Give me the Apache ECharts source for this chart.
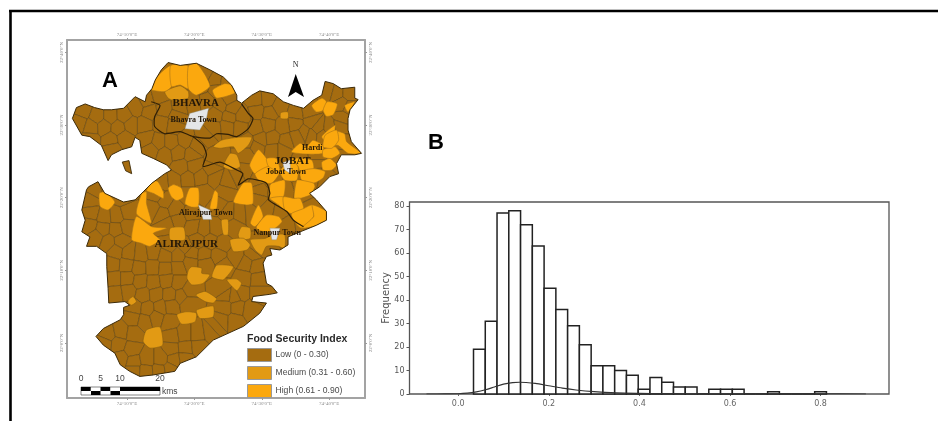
<!DOCTYPE html>
<html>
<head>
<meta charset="utf-8">
<script src="https://cdn.jsdelivr.net/npm/echarts@6/dist/echarts.min.js"></script>
<style>html,body{margin:0;padding:0;background:#fff}#c{width:938px;height:421px;filter:blur(0.55px)}</style>
</head>
<body>
<div id="c"></div>
<script>
// ---------- B: histogram (food security index) ----------
const binStart = 0.0338, binWidth = 0.02597;
const binCounts = [19,31,77,78,72,63,45,36,29,21,12,12,10,8,2,7,5,3,3,0,2,2,2,0,0,1,0,0,0,1];
const curveX = [-0.07,-0.03,0,0.02,0.04,0.06,0.08,0.1,0.12,0.135,0.15,0.17,0.2,0.23,0.26,0.3,0.35,0.4,0.45,0.5,0.6,0.7,0.8,0.9];
const curveY = [0,0.02,0.1,0.35,0.9,1.8,3,4.2,4.85,5,4.9,4.5,3.5,2.5,1.7,1,0.5,0.28,0.15,0.1,0.06,0.03,0.02,0];
const histXTicks = [0,0.2,0.4,0.6,0.8];
const histYTicks = [0,10,20,30,40,50,60,70,80];

// ---------- A: map, in arcminutes east of 74°E and north of 22°N ----------
const lonTicks = [10,20,30,40];
const latTicks = [0,10,20,30,40];
const districtOutline = [[1.9,30.9],[2.5,32.4],[3.8,32.9],[5.2,32.4],[6.5,32.1],[7.7,32.1],[9.5,32.3],[11.2,33.9],[12.7,33.2],[12.9,34.1],[13.7,35],[14.2,36.2],[15.1,37.6],[16.1,38.6],[17.9,38.2],[20.3,38.5],[22.3,37.6],[24.3,36.6],[25.5,35.5],[26.3,34.1],[26.3,33.4],[27,33],[28.5,34.1],[29.7,34.7],[31.7,34.3],[33.2,33.2],[34.7,32.7],[36.2,32.3],[37.6,33.4],[38.9,34.1],[39.4,36],[40.6,35.7],[41.8,35],[43.8,35.2],[43.8,33.7],[44.3,33.5],[43.1,32.1],[42.8,30.9],[42.8,29.3],[43.3,27.7],[44.8,26.1],[43.8,25.9],[41.8,25.9],[41.1,24.7],[41.4,23.3],[40.1,22.9],[38.6,21.5],[37.1,20.6],[38.1,19.7],[39.6,18.1],[39.6,16.9],[38.1,16.2],[35.7,15.3],[33.9,14.6],[33.9,13.5],[32.7,12.8],[31.2,13],[31.5,12.1],[30.7,11.9],[30.2,11],[30.7,8.2],[31.5,7.8],[32.3,6.9],[31.2,6.7],[28.7,6.4],[28.5,5.7],[30.7,5.5],[29.7,4.1],[27.3,2.3],[22.8,0.4],[20.3,-1.9],[17.9,-2.8],[17.1,-3.9],[13.9,-4.4],[11.9,-4.6],[10.4,-3.9],[9,-3],[8.2,-1.4],[6.5,-0.3],[5.4,0.9],[6.5,2],[9,3.2],[9.5,3.9],[9.5,4.9],[10.4,5.2],[9.7,5.7],[7.3,5.5],[7.2,7.5],[7,10.5],[7,12.3],[5.5,13.3],[4,13.3],[4.5,14.6],[3.3,15.3],[3.8,16.9],[3.3,18.3],[4,21.1],[4.3,21.5],[5.7,22.2],[6.7,20.6],[9.5,19.4],[11.2,19.7],[12.4,20.8],[13.7,22],[15.6,23.3],[16.6,23.8],[15.9,24.5],[13.9,25.4],[12.2,26.1],[11.9,27.9],[11.2,28.3],[10.7,27],[9.2,26.6],[7.7,25.9],[7.2,25.1],[6.2,27.2],[4.5,28.4],[3.3,28.6]];
const islandOutline = [[9.3,24.9],[10.3,25.1],[10.7,23.3],[9.8,23.7]];
const lowVillages = [
[21.4,37.3],[23.3,36.1],[24.6,35.9],[21,35.6],[23.4,34.9],[25,33.6],
[39.8,34.8],[41.2,34.4],[42.9,34.3],[12.9,33.3],[14.9,33.9],[17.8,32.5],[19.9,32.9],[21.8,33.1],[23.9,32.8],[25.6,32.3],[29.1,33.4],[30.9,33.5],[32.6,32.5],[35.1,31.6],[37,31.9],
[3.5,32],[5.6,31.2],[7.5,31.2],[9.6,31.3],[11.4,32.4],[13.3,31.9],[15.5,32.2],[17.4,31.2],[23.1,31.4],[25.2,31.1],[27.1,31.2],[29.3,31.9],[31.2,31.6],[37.4,30.4],[42.1,31],[41.9,32.9],[42.9,32.4],[34.9,30.2],[33.1,29.9],
[2.9,30.3],[4.7,29.7],[6.6,29.8],[8.7,29.6],[10.6,30],[12.5,30],[15.1,30.2],[17,29.9],[22.9,29.6],[24.9,29.8],[26.8,29.7],[29.2,29.6],[30.9,30.1],[36.4,28.9],[38.3,29.6],[40.1,29.4],[41.7,29.7],
[4.6,28],[7.6,27.9],[9.6,28.2],[12.9,28.1],[14.6,27.6],[16.6,27.6],[18.6,27.9],[20.4,27.1],[21.7,28.4],[27.8,27.7],[29.8,28],[31.6,28.1],[33.6,27.7],[35.3,28.3],[37.3,28.6],[39,28.5],[41.5,28.1],
[7.8,26.8],[13.6,26.6],[15.6,25.9],[17.6,26.2],[19.6,25.9],[23.1,25.5],[27.8,25.9],[29.3,27],[31.7,26.6],[33.1,26.6],[37.9,24.9],[41.3,25.2],[36,25.3],[37.9,25.6],
[18,24.2],[20,24.4],[22.5,23.9],[27.6,23.5],[36.5,23.9],[35.3,23.4],[38,23.1],[39.2,22.8],
[15.2,22.2],[17,22.4],[19,22.6],[21,22.8],[23,22.7],[24.9,22.1],[29.4,22.6],[26.6,23],[31.3,22.3],[35.8,21.5],
[5.3,21],[7,21.6],[14.4,20.4],[15.6,19.5],[19,20.3],[21.4,20.7],[24.6,20.9],[29.9,21],[29.6,19.7],[32,20.8],[33.7,20.8],[36,20.6],
[4.6,19.6],[4.8,17.9],[6.6,17.4],[8.5,17.5],[10.1,18],[9.3,20.1],[13.9,18.5],[15.2,17.8],[17.2,18.4],[17.6,16.9],[19.6,17.8],[23.6,18.9],[24.9,17.9],[26.8,17.8],[28.4,17.9],[30.8,18.5],[32.8,18.1],[37,18.4],
[4.5,16.2],[6.4,15.7],[8.4,15.6],[10,16],[15.9,16.3],[19.8,16],[21.4,15.7],[23.2,15.8],[25.9,15.9],[33.9,16.3],[36,16.5],[36.9,17.4],
[5.4,14.6],[7.2,13.9],[9.1,14],[16.3,13.4],[18.7,13.2],[20.5,14.1],[22.4,14],[24.2,13.7],[26.1,11.9],[28.7,12.2],[29.3,13],
[8.4,12.6],[10.2,12.4],[12.1,12.2],[13.9,12.5],[15.7,12],[17.6,12],[19.6,12.3],[21.5,12.1],[23.5,12],[24.4,10.6],[27.8,10.9],[29.1,10.6],
[7.9,10.8],[9.9,10.7],[11.8,10.3],[13.8,10.4],[15.7,10.2],[17.6,10.4],[19.4,11.1],[21.7,11],
[8.1,8.9],[10,8.9],[12,8.5],[13.9,8.3],[15.9,8.6],[17.6,8.3],[27.4,8.9],[29.4,8.7],[27,6.9],
[8.3,6.8],[10.2,7.1],[12.4,6.6],[14.3,6.7],[16.3,6.6],[18.1,6.5],[19.2,7.2],[24.6,6.6],[26,6.4],[29.4,6.9],[24.1,7.4],
[11.2,4.9],[13,4.7],[15,4.9],[16.5,5.1],[24.5,4.9],[26.4,4.9],[28.3,4.6],[19.1,5.5],
[10.9,3.4],[12.6,3],[14.4,3.5],[16.3,2.9],[24,3.1],[26,3],[23.2,2.3],
[7.2,1.2],[9.1,1.6],[11,1.3],[16.7,0.9],[18.5,1.2],[20.5,1.2],[22.4,1.5],
[6.7,-0.1],[8.7,-0.2],[10.7,-0.9],[16.6,-0.8],[18.7,-0.7],[20.6,-0.5],
[9.1,-2.1],[11,-2.6],[13,-2.2],[15,-2.2],[17,-2.3],[18.6,-2.1],
[11,-3.8],[12.8,-3.9],[14.8,-3.8],[16.4,-3.6]
];
const mediumPatches = [
[[15.6,34.6],[17.9,35.4],[19.1,34.6],[19.1,33.7],[16.9,33.4],[16.1,33.7]],
[[32.8,31.7],[33.9,31.8],[33.9,30.9],[32.8,30.9]],
[[22.8,27],[24,27.9],[26.3,28.3],[28.5,28.3],[28,27.2],[26.5,26.1],[25.8,27],[23.8,26.8]],
[[24.3,24.3],[25.3,26.1],[26.3,25.9],[26.8,24.3],[25.5,23.8]],
[[16.4,15.8],[18.4,15.9],[18.6,14.2],[16.4,14.2]],
[[24,16.9],[25,17],[25,14.9],[24.3,14.9]],
[[26.5,14.9],[27,16],[28.3,15.8],[28.3,14.4],[26.8,14.2]],
[[25.3,14.2],[27.3,14.4],[28.3,13.5],[27.8,12.8],[25.8,12.6]],
[[28.3,14.2],[30.5,14.4],[31.7,14.9],[33.4,14.9],[33.4,13],[32.5,13.3],[30.7,13.3],[30,12.1],[29,12.8]],
[[19.1,10],[19.6,10.5],[21.1,10.3],[21.1,9.6],[22.3,9.4],[21.3,8.2],[19.6,8],[18.9,8.9]],
[[22.6,9.1],[23.3,10.7],[25.8,10.5],[24.3,8.7]],
[[24.8,8.7],[26.3,8.8],[27,8.2],[26.3,7.2]],
[[10.2,5.9],[10.9,6.4],[11.4,5.7],[10.7,5.2],[10.2,5.5]],
[[20.2,6.6],[21.6,7.1],[23.3,6.1],[22.8,5.5],[21.6,5.7]],
[[17.4,3.9],[18.8,4.3],[20.3,4.1],[20.1,2.9],[18.1,2.6]],
[[20.3,4.5],[22.8,5.1],[22.8,3.6],[20.8,3.4]],
[[12.4,0.2],[12.9,1.8],[14.9,2.2],[15.3,-0.3],[13.4,-0.7]]
];
const highPatches = [
[[13.6,34.9],[14.4,36.6],[16.5,38.2],[16.6,35.3],[15.6,34.6]],
[[16.5,38.2],[19.1,38.1],[19.1,35],[17.9,35.5],[16.6,35.3]],
[[19.1,38.1],[20.3,38.5],[21.6,36.9],[22.3,35.3],[20.3,34.1],[19.1,35]],
[[22.7,34.8],[24.5,35.7],[25.5,35.5],[26,34.4],[23.3,33.7]],
[[37.4,32.7],[38.9,33.7],[39.6,33.2],[39.1,32],[38.1,31.8]],
[[39.1,32],[39.7,33.2],[41.2,32.9],[40.6,31.4],[39.6,31.2]],
[[42.3,32.7],[43.8,33.2],[42.8,31.8]],
[[34.4,26.3],[35.7,27.5],[36.6,27],[37.6,27.9],[39.1,27.2],[39.1,26.1],[36.6,26]],
[[38.9,28.4],[40.9,30],[40.9,29.3],[42.3,28.8],[42.6,27.7],[44.8,26.1],[42.8,26.1],[41.3,27.2],[40.1,27.2]],
[[38.9,24.9],[40.1,25.4],[41.1,24.5],[40.4,23.8],[39.1,23.8]],
[[39.1,26.6],[40.9,27],[41.6,26.1],[40.4,25.4],[39.1,25.6]],
[[39.4,28.6],[41.1,29.3],[41.4,27.9],[40.4,26.8],[39.1,27]],
[[28.2,24.5],[29.5,26.6],[30.7,25.4],[31,24.3],[29,23.3]],
[[29,23.3],[31,24.3],[32.7,23.6],[31.5,22],[29.7,22.2]],
[[30.7,25.4],[32.2,25.4],[32.7,23.6],[31,24.3]],
[[32.7,23.6],[34.4,25.4],[35.4,24.3],[35.2,22.4],[33.4,22.4]],
[[34.4,25.4],[37.4,25.2],[37.7,24],[35.7,23.6],[35.4,24.3]],
[[35.7,23.6],[37.7,24],[39.4,23.6],[39.1,22.7],[37.7,22],[35.9,22.4]],
[[31.5,22],[33.4,22.4],[33.2,20.1],[31.2,19.9],[31.2,21.7]],
[[35.2,22.4],[35.9,22.4],[37.7,22],[37.9,21.5],[37.2,20.4],[35.7,19.9],[34.8,19.9]],
[[31.2,19.9],[33.2,20.1],[33.4,18.3],[32.5,19]],
[[33.2,20.1],[34.8,19.9],[35.7,19.9],[36.2,18.5],[34.4,17.8],[33.4,18.3]],
[[34.4,17.8],[36.2,18.5],[37.5,19],[37.7,17.4],[35.9,15.8],[34.7,16.9]],
[[37.5,19],[39.6,18.1],[39.6,16.9],[38.4,16.2],[35.9,15.8],[37.7,17.4]],
[[10.7,14.2],[11.4,17.4],[13.7,16],[15.9,15.8],[13.9,15.1],[14.9,14.2],[13.4,13.3],[12.2,13.7]],
[[11.4,17.8],[12.2,20.6],[12.9,20.8],[12.9,19.2],[13.6,16.5]],
[[5.9,20.6],[6.7,20.8],[8.2,19.4],[7.2,18.3],[6,18.8]],
[[12.9,21],[13.9,22.3],[14.6,22.2],[15.4,20.8],[15.4,19.9],[13.9,20.6]],
[[16.1,21.3],[16.9,21.8],[18.1,21.3],[18.4,20.1],[17.4,19.6],[16.6,20.1]],
[[18.6,19.2],[19.3,21.3],[20.6,21.3],[20.6,18.8],[19.6,18.7]],
[[22.3,18.5],[23,21],[23.5,20.6],[23.3,18.5]],
[[25.8,19.4],[27.2,22],[28.5,22],[28.7,19.2],[27.7,19]],
[[28.3,16.5],[29.5,19],[30.2,17.4],[29,16]],
[[29.2,16],[30.7,17.6],[32.5,17.4],[33,16.7],[31.2,15.3],[29.5,15.5]]
];
const tehsilBoundaries = [
[[13.6,33.2],[14.9,32.7],[14.1,31.1],[14.1,29.8],[15.6,28.8],[17.9,29.1],[19.8,28.4],[22.3,28.2],[23.3,28.8],[25,28.7],[26.3,28.4],[28,29.5],[28.7,30.9],[28,31.6],[27,32.9]],
[[19.8,28.4],[21.3,27.2],[21.8,25.9],[21.3,24.3],[23.8,24.9],[26.3,23.8],[27.2,23.3],[26.5,21.7],[28,22.6],[30.7,22],[31.2,20.6],[31,19.7],[33.7,18.1],[34.7,16.9],[36.2,16]]
];
const townAreas = [
[[18.6,29.5],[19.3,31.6],[22.1,32.3],[21.8,30.9],[20.8,29.3]],
[[33.1,24.8],[34.2,25.2],[34.3,23.3],[33.4,23.8]],
[[20.6,19],[22.3,18.3],[22.6,17],[21.3,17]],
[[31.2,15.8],[32.7,15.8],[32.2,14.2],[31.5,14.2]]
];
const placeNames = ['BHAVRA','JOBAT','ALIRAJPUR','Bhavra Town','Jobat Town','Hardi','Alirajpur Town','Nanpur Town'];
const placeLon = [20.2,34.6,18.8,19.9,33.6,37.5,21.7,32.3];
const placeLat = [33,25,13.6,30.7,23.5,26.8,17.9,15.1];
const legendNames = ['Low (0 - 0.30)','Medium (0.31 - 0.60)','High (0.61 - 0.90)'];
const legendColors = ['#A56C10','#E29A14','#FBA80E'];
const scaleLabels = ['0','5','10','20'];

// one cell around each read-off village centre, within the sheet
function cellOf(i){
  let poly = [[0,-8],[46,-8],[46,42],[0,42]];
  const a = lowVillages[i];
  lowVillages.forEach((b,j)=>{
    if(j===i) return;
    const mx=(a[0]+b[0])/2,my=(a[1]+b[1])/2,nx=b[0]-a[0],ny=b[1]-a[1];
    const side=p=>(p[0]-mx)*nx+(p[1]-my)*ny;
    const out=[];
    for(let k=0;k<poly.length;k++){
      const p=poly[k],q=poly[(k+1)%poly.length],sp=side(p),sq=side(q);
      if(sp<=0) out.push(p);
      if((sp<0&&sq>0)||(sp>0&&sq<0)){const t=sp/(sp-sq);out.push([p[0]+t*(q[0]-p[0]),p[1]+t*(q[1]-p[1])]);}
    }
    poly=out;
  });
  return poly;
}
const lowCells = lowVillages.map((_,i)=>cellOf(i));

const chart = echarts.init(document.getElementById('c'),null,{renderer:'canvas'});
const MAPAX = {xAxisIndex:0,yAxisIndex:0};
function px(api,pts){return pts.map(p=>api.coord(p));}
function areaSeries(name,color,polys,strokeColor,lineWidth){
  return {name,type:'custom',...MAPAX,itemStyle:{color},silent:true,z:2,
    data:polys.map((_,i)=>[i]),
    renderItem:(params,api)=>({type:'polygon',shape:{points:px(api,polys[params.dataIndex]),smooth:0.2},
      style:{fill:color,stroke:strokeColor,lineWidth},
      clipPath:{type:'polygon',shape:{points:px(api,districtOutline)}}})};
}
const mapAxisLabel={color:'#8a8a8a',fontSize:5,fontFamily:'Liberation Serif',margin:3};
const mapAxisLine={show:true,onZero:false,lineStyle:{color:'#a3a3a3',width:2}};
const mapTick={show:true,length:2,lineStyle:{color:'#999',width:1},customValues:lonTicks};
const lonFmt=v=>`74°${v}'0"E`, latFmt=v=>`22°${v}'0"N`;
const xMapAxis=(position)=>({type:'value',gridIndex:0,position,min:1.1,max:45.32,splitLine:{show:false},axisLine:mapAxisLine,
  axisTick:mapTick,axisLabel:{...mapAxisLabel,customValues:lonTicks,formatter:lonFmt}});
const yMapAxis=(position)=>({type:'value',gridIndex:0,position,min:-7.57,max:41.7,splitLine:{show:false},axisLine:mapAxisLine,
  axisTick:{...mapTick,customValues:latTicks},axisLabel:{...mapAxisLabel,rotate:90,customValues:latTicks,formatter:latFmt}});

const option={
  animation:false,backgroundColor:'#fff',
  grid:[{left:67,top:40,width:298,height:358,show:false},
        {left:409.5,top:202,width:479.5,height:192,show:true,borderColor:'#555',borderWidth:1.3,backgroundColor:'transparent'}],
  xAxis:[xMapAxis('bottom'),xMapAxis('top'),
    {type:'value',gridIndex:1,min:-0.1075,max:0.951,splitLine:{show:false},axisLine:{show:false,onZero:false},
     axisTick:{show:true,length:2,lineStyle:{color:'#666'},customValues:histXTicks},
     axisLabel:{color:'#666',fontSize:8,fontFamily:'DejaVu Sans',margin:6,customValues:histXTicks,formatter:v=>v.toFixed(1)}}],
  yAxis:[yMapAxis('left'),yMapAxis('right'),
    {type:'value',gridIndex:1,min:0,max:81.7,splitLine:{show:false},axisLine:{show:false,onZero:false},
     name:'Frequency',nameLocation:'middle',nameRotate:90,nameGap:18,nameMoveOverlap:false,nameTextStyle:{color:'#555',fontSize:10,fontFamily:'DejaVu Sans'},
     axisTick:{show:true,length:3,lineStyle:{color:'#555'},customValues:histYTicks},
     axisLabel:{color:'#555',fontSize:8,fontFamily:'DejaVu Sans',margin:5,customValues:histYTicks}}],
  legend:{left:247,top:348,padding:0,orient:'vertical',itemWidth:24,itemHeight:13,itemGap:4,icon:'rect',selectedMode:false,
    data:legendNames,itemStyle:{borderColor:'#999',borderWidth:1},
    textStyle:{color:'#4a4a4a',fontSize:8.6,fontFamily:'Liberation Sans',padding:[0,0,0,-1]}},
  series:[
    {name:legendNames[0],type:'custom',...MAPAX,itemStyle:{color:legendColors[0]},silent:true,z:1,
     data:lowVillages,
     renderItem:(params,api)=>({type:'polygon',shape:{points:px(api,lowCells[params.dataIndex])},
       style:{fill:legendColors[0],stroke:'#654610',lineWidth:0.6},
       clipPath:{type:'polygon',shape:{points:px(api,districtOutline)}}})},
    areaSeries(legendNames[1],legendColors[1],mediumPatches,'#8a5f12',0.6),
    areaSeries(legendNames[2],legendColors[2],highPatches,'#a8741a',0.6),
    {type:'custom',...MAPAX,silent:true,z:3,data:[[0]],
     renderItem:(params,api)=>({type:'group',children:[
       {type:'polygon',shape:{points:px(api,islandOutline)},style:{fill:legendColors[0],stroke:'#3c2a08',lineWidth:0.9}},
       ...townAreas.map(t=>({type:'polygon',shape:{points:px(api,t)},style:{fill:'#e4e6e8',stroke:'#8b8b7d',lineWidth:0.4}})),
       {type:'polygon',shape:{points:px(api,districtOutline)},style:{fill:'none',stroke:'#3c2a08',lineWidth:1}},
       ...tehsilBoundaries.map(t=>({type:'polyline',shape:{points:px(api,t),smooth:0.2},style:{fill:'none',stroke:'#2f1f06',lineWidth:1.2}}))
     ]})},
    {type:'custom',...MAPAX,silent:true,z:4,data:placeNames.map((_,i)=>[placeLon[i],placeLat[i]]),
     renderItem:(params,api)=>{
       const i=params.dataIndex,c=api.coord([placeLon[i],placeLat[i]]),big=i<3;
       return {type:'text',style:{text:placeNames[i],x:c[0],y:c[1],align:'center',verticalAlign:'middle',
         font:`bold ${big?11:8}px "Liberation Serif"`,fill:'#231708'}};
     }},
    {type:'custom',xAxisIndex:2,yAxisIndex:2,silent:true,z:2,
     data:binCounts.map((c,i)=>[binStart+i*binWidth,binStart+(i+1)*binWidth,c]),
     renderItem:(params,api)=>{
       const a=api.coord([api.value(0),api.value(2)]),b=api.coord([api.value(1),0]);
       return {type:'rect',shape:{x:a[0],y:a[1],width:b[0]-a[0],height:b[1]-a[1]},style:{fill:'#fff',stroke:'#222',lineWidth:1.5}};
     }},
    {type:'line',xAxisIndex:2,yAxisIndex:2,z:3,silent:true,smooth:0.3,symbol:'none',
     lineStyle:{color:'#333',width:1.2},data:curveX.map((x,i)=>[x,curveY[i]])}
  ],
  graphic:[
    {type:'line',shape:{x1:9,y1:11,x2:938,y2:11},style:{stroke:'#000',lineWidth:2.6},z:10},
    {type:'line',shape:{x1:10.5,y1:10,x2:10.5,y2:421},style:{stroke:'#000',lineWidth:2.6},z:10},
    {type:'text',x:110,y:81,style:{text:'A',font:'bold 22px "Liberation Sans"',fill:'#000',align:'center',verticalAlign:'middle'}},
    {type:'text',x:436,y:143,style:{text:'B',font:'bold 22px "Liberation Sans"',fill:'#000',align:'center',verticalAlign:'middle'}},
    {type:'text',x:295.7,y:65,style:{text:'N',font:'8px "Liberation Serif"',fill:'#222',align:'center',verticalAlign:'middle'}},
    {type:'polygon',shape:{points:[[295.7,74],[304,97],[295.7,92],[288,97]]},style:{fill:'#000'}},
    {type:'text',x:247,y:339,style:{text:'Food Security Index',font:'bold 10.5px "Liberation Sans"',fill:'#2a2a2a',verticalAlign:'middle'}},
    ...scaleLabels.map((t,i)=>({type:'text',x:[81,100.5,120,160][i],y:379,style:{text:t,font:'8.5px "Liberation Sans"',fill:'#444',align:'center',verticalAlign:'middle'}})),
    {type:'rect',shape:{x:81,y:387,width:79,height:8},style:{fill:'#fff',stroke:'#333',lineWidth:0.6}},
    ...[[81,9.7],[100.5,9.7],[120,40]].map(s=>({type:'rect',shape:{x:s[0],y:387,width:s[1],height:4},style:{fill:'#000'}})),
    ...[[91,9.5],[110.5,9.5]].map(s=>({type:'rect',shape:{x:s[0],y:391,width:s[1],height:4},style:{fill:'#000'}})),
    {type:'text',x:162,y:392,style:{text:'kms',font:'8.5px "Liberation Sans"',fill:'#444',verticalAlign:'middle'}}
  ]
};
chart.setOption(option);
</script>
</body>
</html>
